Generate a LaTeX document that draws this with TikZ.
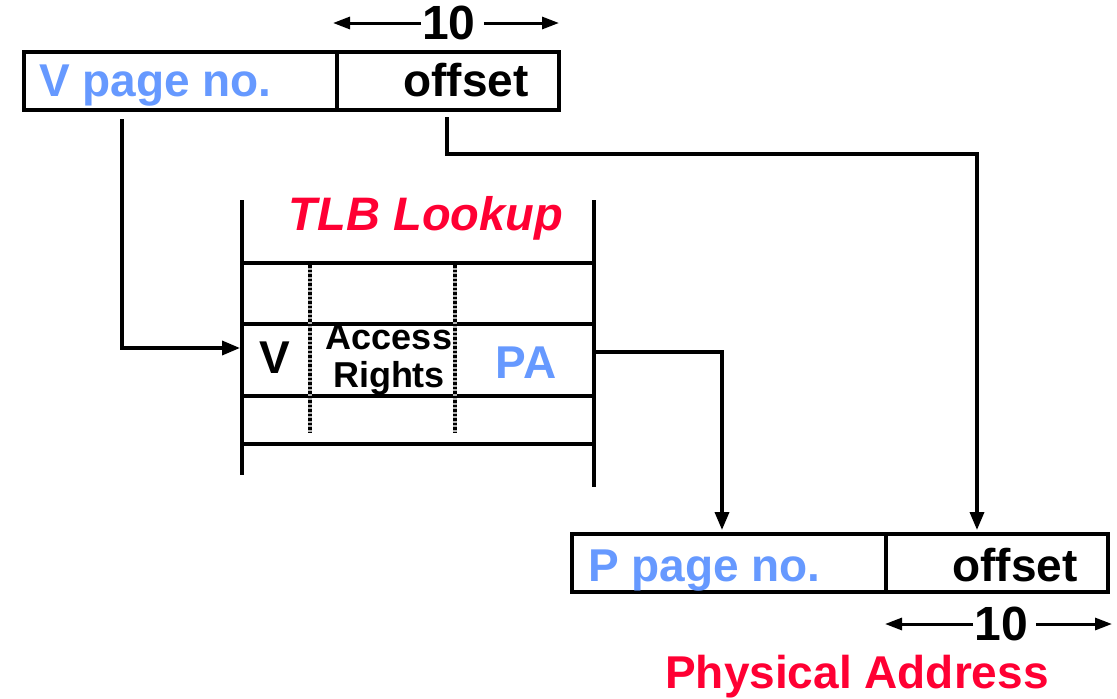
\documentclass[tikz,border=0pt]{standalone}
\usepackage{fontspec}
\setmainfont{Liberation Sans}
\usetikzlibrary{arrows.meta,calc}
\definecolor{vblue}{RGB}{102,153,255}
\definecolor{tred}{RGB}{255,0,51}
\begin{document}
\begin{tikzpicture}[x=1pt,y=-1pt,
  field/.style={draw, line width=4pt, inner sep=0pt, minimum height=58pt, anchor=north west},
  big/.style={inner sep=0pt, font=\fontsize{46}{50}\selectfont\bfseries},
  dimlbl/.style={inner sep=0pt, font=\fontsize{48}{50}\selectfont\bfseries},
  dimarrow/.style={line width=3pt, -{Triangle[length=17pt,width=12pt]}},
  connarrow/.style={line width=3.5pt, -{Triangle[length=18pt,width=14pt]}},
  tlbline/.style={line width=4pt},
  hatchbase/.style={line width=4pt, gray!60},
  hatch/.style={line width=4pt, dash pattern=on 2.5pt off 2pt}
]
\useasboundingbox (0,0) rectangle (1117,699);

% virtual address
\node[field, minimum width=313pt] (vpn) at (22,50) {};
\node[field, minimum width=222pt] (voff) at (335,50) {};
\node[big, text=vblue, anchor=base west] (vpntext) at (39,96) {V page no.};
\node[big, anchor=base] (vofftext) at (466,96) {offset};
\node[dimlbl] (ten1) at (449,23) {10};
\draw[dimarrow] ([xshift=-1pt]ten1.west) -- ([xshift=-2pt]voff.north west |- ten1.west);
\draw[dimarrow] ([xshift=8pt]ten1.east) -- ([xshift=-2pt]voff.north east |- ten1.east);

% TLB
\coordinate (tl) at (242,200);
\coordinate (tr) at (594,200);
\draw[tlbline] (tl) -- (242,475);
\draw[tlbline] (tr) -- (594,487);
\foreach \yy in {263,324,396,444} \draw[tlbline] (242,\yy) -- (594,\yy);
\foreach \xx in {310,455} {
  \draw[hatchbase] (\xx,265) -- (\xx,433);
  \draw[hatch] (\xx,265) -- (\xx,433);
}
\node[inner sep=0pt, text=tred, anchor=base, font=\fontsize{47}{50}\selectfont\bfseries\itshape] (tlbtitle) at (426,230) {TLB Lookup};
\node[big, anchor=base] (vbit) at (275,373) {V};
\node[inner sep=0pt, align=center, font=\fontsize{36}{38}\selectfont\bfseries] (rights) at (389,360) {Access\\Rights};
\node[big, text=vblue, anchor=base] (pa) at (526,378) {PA};
\coordinate (tlbV) at (240,348);
\coordinate (tlbPA) at (596,352);

% physical address
\node[field, minimum width=314pt] (ppn) at (570,532) {};
\node[field, minimum width=222pt] (poff) at (884,532) {};
\node[big, text=vblue, anchor=base west] (ppntext) at (588,581) {P page no.};
\node[big, anchor=base] (pofftext) at (1015,581) {offset};
\node[dimlbl] (ten2) at (1001,624) {10};
\draw[dimarrow] ([xshift=-1pt]ten2.west) -- ([xshift=1pt]poff.south west |- ten2.west);
\draw[dimarrow] ([xshift=8pt]ten2.east) -- ([xshift=2pt]poff.south east |- ten2.east);
\node[big, text=tred, anchor=base] (phys) at (857,688) {Physical Address};

% connectors
\draw[connarrow] ($(vpn.south west)+(100,7)$) |- (tlbV);
\draw[connarrow] ($(voff.south west)+(112,5)$) -- ++(0,37) -| ($(poff.north west)+(93,-2)$);
\draw[connarrow] (tlbPA) -| ($(ppn.north west)+(152,-2)$);
\end{tikzpicture}
\end{document}
